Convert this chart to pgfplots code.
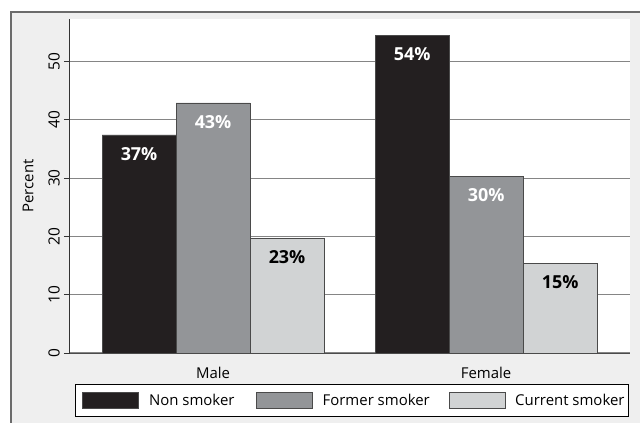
\documentclass[border=0pt]{standalone}
\usepackage{fontspec}
\setmainfont{Open Sans}
\usepackage{pgfplots}
\pgfplotsset{compat=1.18}

\definecolor{bgpanel}{HTML}{EFEFEF}
\definecolor{frameline}{HTML}{6B6B6B}
\definecolor{gridgray}{HTML}{858585}
\definecolor{nonsmk}{HTML}{231F20}
\definecolor{formersmk}{HTML}{939598}
\definecolor{currentsmk}{HTML}{D1D3D4}
\definecolor{baredge}{HTML}{4A4A4A}

\begin{document}
\begin{tikzpicture}
  % page = 640 x 423 bp, axis box lower-left at (0,0)
  \useasboundingbox (-70bp,-70bp) rectangle (570bp,353bp);
  \clip (-70bp,-70bp) rectangle (570bp,353bp);
  \filldraw[fill=bgpanel, draw=frameline, line width=1.3bp]
    (-59bp,-90bp) rectangle (590bp,341bp);

  \begin{axis}[
      at={(0,0)}, anchor=south west,
      scale only axis,
      width=560bp, height=334bp,
      ybar=0pt,
      bar width=74bp,
      xmin=-0.524, xmax=1.527,
      ymin=0, ymax=57.3,
      axis background/.style={fill=white},
      axis x line*=bottom,
      axis y line*=left,
      x axis line style={draw=black!70, line width=1bp, -},
      y axis line style={draw=black!80, line width=1bp, -},
      xtick={0,1},
      xticklabels={Male,Female},
      xtick style={draw=none},
      xticklabel style={font=\fontsize{15}{17}\selectfont, anchor=north, inner sep=0pt, yshift=-8bp},
      ytick={0,10,20,30,40,50},
      ytick style={draw=black!80, line width=0.8bp},
      tick align=outside,
      major tick length=6bp,
      yticklabel style={font=\fontsize{15.5}{17}\selectfont, rotate=90, anchor=south, inner sep=0pt},
      yticklabel shift=4bp,
      /pgf/number format/assume math mode=true,
      ymajorgrids,
      major grid style={draw=gridgray, line width=1.2bp},
      ylabel={Percent},
      every axis y label/.style={at={(axis description cs:0,0.5)}, xshift=-42bp, rotate=90, anchor=center, font=\fontsize{15}{17}\selectfont},
      point meta=explicit symbolic,
      nodes near coords={\pgfplotspointmeta\%},
      every node near coord/.append style={font=\bfseries\fontsize{18}{20}\selectfont, anchor=north, inner sep=0pt, yshift=-12bp},
      legend columns=3,
      legend image code/.code={%
        \draw[#1] (0bp,-8bp) rectangle (56bp,8bp);
        \path (66bp,0bp);
      },
      legend style={
        at={(0.00893,-0.0928)}, anchor=north west,
        draw=black, line width=0.9bp, fill=white,
        inner xsep=7bp, inner ysep=7.5bp,
        column sep=0pt,
        font=\fontsize{15}{17}\selectfont,
        nodes={inner sep=0pt},
      },
    ]
    \addplot[fill=nonsmk, draw=baredge, line width=0.6bp,
      every node near coord/.append style={text=white}]
      coordinates {(0,37.4) [37] (1,54.5) [54]};
    \addplot[fill=formersmk, draw=baredge, line width=0.6bp,
      every node near coord/.append style={text=white}]
      coordinates {(0,42.9) [43] (1,30.3) [30]};
    \addplot[fill=currentsmk, draw=baredge, line width=0.6bp,
      every node near coord/.append style={text=black}]
      coordinates {(0,19.7) [23] (1,15.4) [15]};
    \legend{\makebox[107bp][l]{Non smoker},\makebox[126bp][l]{Former smoker},\makebox[106bp][l]{Current smoker}}
  \end{axis}
\end{tikzpicture}
\end{document}
